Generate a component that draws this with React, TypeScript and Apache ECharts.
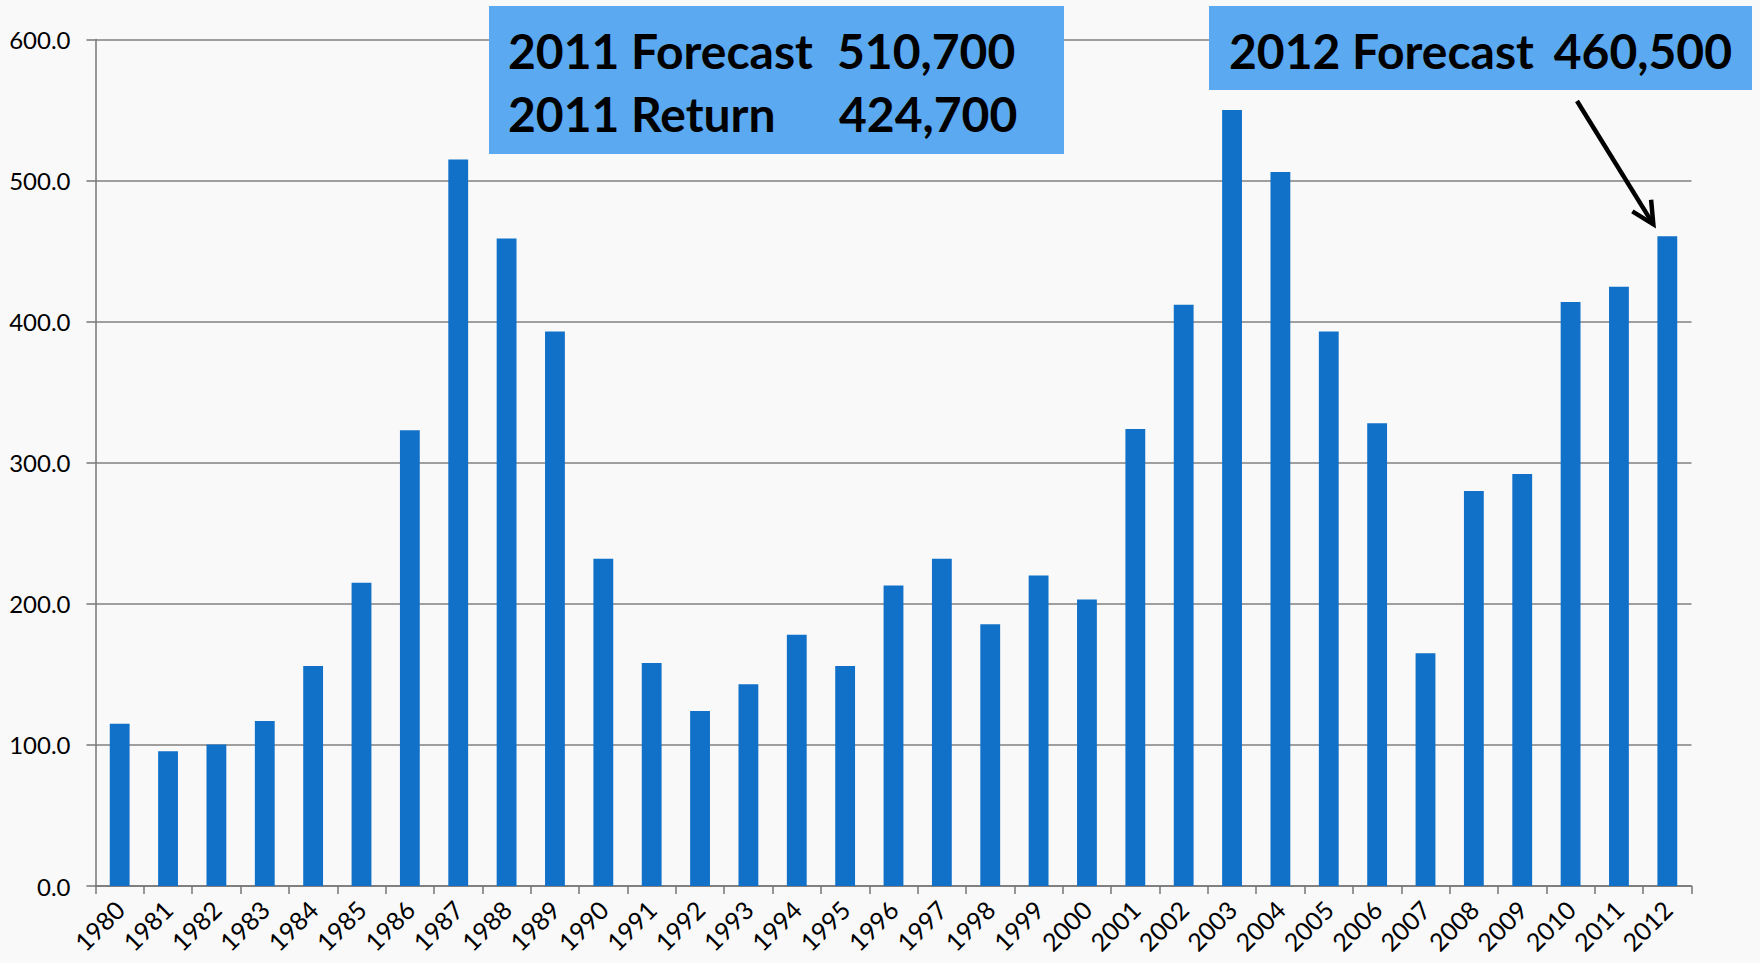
import React, { useEffect, useRef } from "react";
import * as echarts from "echarts";

const years = [
  "1980","1981","1982","1983","1984","1985","1986","1987","1988","1989",
  "1990","1991","1992","1993","1994","1995","1996","1997","1998","1999",
  "2000","2001","2002","2003","2004","2005","2006","2007","2008","2009",
  "2010","2011","2012",
];
const returns = [
  115, 95.5, 100.3, 117, 156, 215, 323, 515, 459, 393,
  232, 158, 124, 143, 178, 156, 213, 232, 185.5, 220,
  203, 324, 412, 550, 506, 393, 328, 165, 280, 292,
  414, 424.7, 460.5,
];
const yTicks = { min: 0, max: 600, interval: 100 };
const box1Lines = [
  ["2011 Forecast", "510,700"],
  ["2011 Return", "424,700"],
];
const box2Line = ["2012 Forecast", "460,500"];

const BAR = "#1170c7";
const BOX = "#5aa9f1";
const FONT = "Lato, 'Open Sans', sans-serif";

export default function App() {
  const ref = useRef<HTMLDivElement>(null);
  useEffect(() => {
    const el = ref.current!;
    const chart = echarts.init(el, null, { renderer: "svg" });
    chart.setOption({
      animation: false,
      backgroundColor: "#f9f9f9",
      grid: { left: 95.5, right: 68.5, top: 39.5, bottom: 77, containLabel: false },
      xAxis: {
        type: "category",
        data: years,
        boundaryGap: true,
        axisLine: { show: true, lineStyle: { color: "#767676", width: 1.5 } },
        axisTick: { show: true, length: 8, alignWithLabel: false, lineStyle: { color: "#767676", width: 1.5 } },
        axisLabel: {
          rotate: 45,
          interval: 0,
          margin: 19,
          fontSize: 25,
          color: "#000",
          fontFamily: FONT,
        },
      },
      yAxis: {
        type: "value",
        min: yTicks.min,
        max: yTicks.max,
        interval: yTicks.interval,
        axisLine: { show: true, lineStyle: { color: "#767676", width: 1.5 } },
        axisTick: { show: true, length: 9, lineStyle: { color: "#767676", width: 1.5 } },
        splitLine: { show: true, lineStyle: { color: "#808080", width: 1.5 } },
        axisLabel: {
          formatter: (v: number) => v.toFixed(1),
          fontSize: 24,
          color: "#000",
          margin: 25,
          fontFamily: FONT,
        },
      },
      series: [
        {
          type: "bar",
          data: returns,
          barWidth: "41%",
          itemStyle: { color: BAR },
        },
      ],
    });

    const tip = chart.convertToPixel({ gridIndex: 0 }, [years.length - 1, returns[returns.length - 1]]) as number[];
    const tipX = tip[0] - 14;
    const tipY = tip[1] - 12;
    const startX = 1577;
    const startY = 101;
    const ang = Math.atan2(tipY - startY, tipX - startX);
    const hl = 22;
    const hw = 11;
    const bx = tipX - hl * Math.cos(ang);
    const by = tipY - hl * Math.sin(ang);
    const px = -Math.sin(ang);
    const py = Math.cos(ang);

    const textStyle = (text: string, x: number, y: number, align: string) => ({
      type: "text",
      x,
      y,
      style: {
        text,
        fill: "#000",
        font: `bold 48px ${FONT}`,
        textAlign: align,
        textVerticalAlign: "middle",
      },
      z: 20,
    });

    chart.setOption({
      graphic: [
        { type: "rect", shape: { x: 489, y: 6, width: 575, height: 148 }, style: { fill: BOX }, z: 10 },
        textStyle(box1Lines[0][0], 508, 50, "left"),
        textStyle(box1Lines[0][1], 837, 50, "left"),
        textStyle(box1Lines[1][0], 508, 113, "left"),
        textStyle(box1Lines[1][1], 839, 113, "left"),
        { type: "rect", shape: { x: 1209, y: 6, width: 543, height: 84 }, style: { fill: BOX }, z: 10 },
        textStyle(box2Line[0], 1229, 50, "left"),
        textStyle(box2Line[1], 1732, 50, "right"),
        {
          type: "line",
          shape: { x1: startX, y1: startY, x2: tipX, y2: tipY },
          style: { stroke: "#000", lineWidth: 4.5 },
          z: 20,
        },
        {
          type: "polyline",
          shape: {
            points: [
              [bx + px * hw, by + py * hw],
              [tipX, tipY],
              [bx - px * hw, by - py * hw],
            ],
          },
          style: { stroke: "#000", lineWidth: 4.5, fill: null },
          z: 20,
        },
      ],
    });

    return () => chart.dispose();
  }, []);
  return (
    <div
      ref={ref}
      style={{ position: "fixed", left: 0, top: 0, width: 1760, height: 963 }}
    />
  );
}
